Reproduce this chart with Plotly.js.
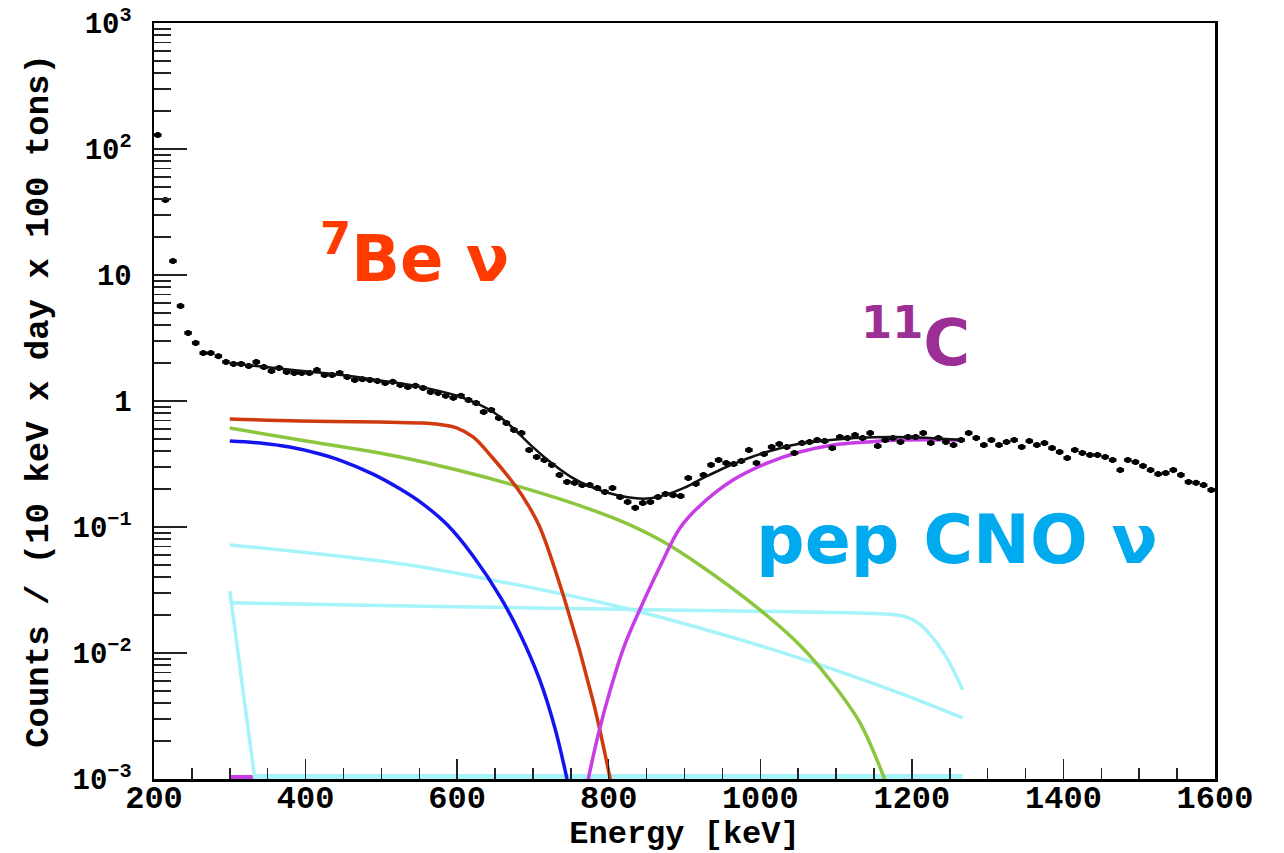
<!DOCTYPE html>
<html><head><meta charset="utf-8">
<script src="https://cdn.plot.ly/plotly-3.0.1.min.js"></script>
<style>html,body{margin:0;padding:0;background:#fff}#chart{width:1284px;height:853px}</style>
</head><body><div id="chart"></div>
<script>
// ---- measured spectrum (10 keV bins) ----
const dataEnergy = [205,215,225,235,245,255,265,275,285,295,
 305,315,325,335,345,355,365,375,385,395,
 405,415,425,435,445,455,465,475,485,495,
 505,515,525,535,545,555,565,575,585,595,
 605,615,625,635,645,655,665,675,685,695,
 705,715,725,735,745,755,765,775,785,795,
 805,815,825,835,845,855,865,875,885,895,
 905,915,925,935,945,955,965,975,985,995,
 1005,1015,1025,1035,1045,1055,1065,1075,1085,1095,
 1105,1115,1125,1135,1145,1155,1165,1175,1185,1195,
 1205,1215,1225,1235,1245,1255,1265,1275,1285,1295,
 1305,1315,1325,1335,1345,1355,1365,1375,1385,1395,
 1405,1415,1425,1435,1445,1455,1465,1475,1485,1495,
 1505,1515,1525,1535,1545,1555,1565,1575,1585,1595];
const dataCounts = [129, 39.4, 12.9, 5.67, 3.47, 2.89, 2.40, 2.40, 2.27, 2.04,
 1.97, 1.97, 1.90, 2.04, 1.86, 1.73, 1.83, 1.70, 1.67, 1.67,
 1.67, 1.76, 1.61, 1.61, 1.67, 1.55, 1.47, 1.49, 1.47, 1.44,
 1.39, 1.42, 1.34, 1.29, 1.32, 1.27, 1.18, 1.16, 1.10, 1.06,
 1.10, 1.02, 0.964, 0.818, 0.848, 0.733, 0.669, 0.589, 0.557, 0.408,
 0.360, 0.340, 0.311, 0.259, 0.228, 0.224, 0.215, 0.215, 0.204, 0.190,
 0.204, 0.173, 0.158, 0.142, 0.155, 0.158, 0.173, 0.183, 0.179, 0.176,
 0.245, 0.220, 0.259, 0.311, 0.340, 0.322, 0.316, 0.334, 0.408, 0.322,
 0.380, 0.432, 0.456, 0.432, 0.387, 0.464, 0.473, 0.490, 0.481, 0.423,
 0.518, 0.509, 0.537, 0.509, 0.557, 0.439, 0.490, 0.509, 0.473, 0.518,
 0.518, 0.557, 0.464, 0.509, 0.473, 0.447, 0.490, 0.557, 0.509, 0.447,
 0.490, 0.447, 0.473, 0.490, 0.432, 0.481, 0.447, 0.464, 0.423, 0.394,
 0.353, 0.408, 0.387, 0.373, 0.373, 0.360, 0.340, 0.283, 0.340, 0.328,
 0.305, 0.283, 0.263, 0.268, 0.283, 0.259, 0.228, 0.224, 0.215, 0.197];

// ---- total fit ----
const fitEnergy = [300,350,400,450,500,550,600,625,650,675,700,725,750,775,800,825,850,875,900,925,950,975,1000,1025,1050,1100,1150,1200,1267];
const fitCounts = [2.0,1.85,1.72,1.60,1.45,1.30,1.10,0.96,0.80,0.60,0.43,0.32,0.25,0.21,0.186,0.172,0.168,0.180,0.205,0.245,0.29,0.335,0.38,0.42,0.455,0.495,0.515,0.515,0.49];

// ---- components ----
const be7Energy = [300,393,498,551,577,600,621,647,679,692,709,742,779,802];
const be7Counts = [0.72,0.694,0.681,0.669,0.651,0.610,0.518,0.353,0.204,0.155,0.10,0.0263,0.00424,0.001];

const blueEnergy = [300,340,379,419,445,489,525,555,587,621,657,683,709,729,745];
const blueCounts = [0.482,0.464,0.431,0.380,0.340,0.263,0.200,0.152,0.104,0.0589,0.0278,0.01415,0.00611,0.00254,0.001];

const greenEnergy = [300,393,525,683,806,868,920,1000,1052,1092,1131,1164];
const greenCounts = [0.61,0.49,0.359,0.208,0.118,0.0788,0.0499,0.0219,0.01157,0.0061,0.00283,0.001];

const c11Energy = [773,786,802,821,845,868,894,920,964,1009,1052,1096,1141,1184,1267];
const c11Counts = [0.001,0.00223,0.00508,0.01157,0.0249,0.049,0.0982,0.147,0.236,0.322,0.394,0.448,0.473,0.49,0.49];

const cnoEnergy = [300,525,656,815,920,1052,1184,1267];
const cnoCounts = [0.072,0.051,0.037,0.0232,0.0158,0.0091,0.0048,0.00305];

const pepEnergy = [300,500,700,900,1100,1158,1190,1210,1243,1267];
const pepCounts = [0.025,0.0238,0.0228,0.0218,0.021,0.0205,0.0195,0.017,0.0098,0.0051];

const steepEnergy = [300,333];
const steepCounts = [0.031,0.001];

const floorEnergy = [333,1267];
const floorCounts = [0.001,0.001];
const floorLowEnergy = [300,530];
const floorLowCounts = [0.001,0.001];

const xTicks = [200,400,600,800,1000,1200,1400,1600];
const yTicks = [0.001,0.01,0.1,1,10,100,1000];
const yTickText = ['10<sup>−3</sup>','10<sup>−2</sup>','10<sup>−1</sup>','1','10','10<sup>2</sup>','10<sup>3</sup>'];
const yMinorTicks = [0.002,0.003,0.004,0.005,0.006,0.007,0.008,0.009,
 0.02,0.03,0.04,0.05,0.06,0.07,0.08,0.09,
 0.2,0.3,0.4,0.5,0.6,0.7,0.8,0.9,
 2,3,4,5,6,7,8,9,
 20,30,40,50,60,70,80,90,
 200,300,400,500,600,700,800,900];

const C = {red:'#d03a0e', blue:'#1414f0', green:'#8cc63f', mag:'#c83ce6', cyan:'#a6f3fa'};
function line(x,y,color,w,shape){return {x:x,y:y,type:'scatter',mode:'lines',line:{color:color,width:w,shape:shape||'spline',smoothing:1.0},hoverinfo:'skip',showlegend:false};}
function flat(x,y,color,w,dash){return {x:x,y:y,type:'scatter',mode:'lines',line:{color:color,width:w,dash:dash||'solid'},hoverinfo:'skip',showlegend:false};}

const traces = [
  flat(floorLowEnergy,floorLowCounts,C.blue,8),
  flat(floorLowEnergy,floorLowCounts,C.mag,8,'dash'),
  flat(floorEnergy,floorCounts,C.cyan,10),
  line(steepEnergy,steepCounts,C.cyan,3.5,'linear'),
  line(cnoEnergy,cnoCounts,C.cyan,3.5),
  line(pepEnergy,pepCounts,C.cyan,3.5),
  line(blueEnergy,blueCounts,C.blue,3.5),
  line(greenEnergy,greenCounts,C.green,3.5),
  line(be7Energy,be7Counts,C.red,3.5),
  line(c11Energy,c11Counts,C.mag,3.5),
  {x:dataEnergy,y:dataCounts,type:'scatter',mode:'markers',showlegend:false,hoverinfo:'skip',
   marker:{color:'#000',size:6,symbol:'circle'},
   error_x:{type:'constant',value:5,color:'#000',thickness:3.5,width:0},
   error_y:{type:'percent',value:5,color:'#000',thickness:2.5,width:0}},
  line(fitEnergy,fitCounts,'#111',2.5),
  {x:[],y:[],yaxis:'y2',type:'scatter',mode:'markers',showlegend:false,hoverinfo:'skip'}
];

const font = 'Liberation Mono, Courier New, monospace';
const tfont = 'DejaVu Sans, Verdana, sans-serif';
const layout = {
  width:1284,height:853,
  paper_bgcolor:'#fff',plot_bgcolor:'#fff',
  margin:{l:154,r:69,t:23,b:74},
  showlegend:false,
  xaxis:{range:[200,1600],tickmode:'array',tickvals:xTicks,ticks:'inside',ticklen:20,tickwidth:1.5,tickcolor:'#222',
    minor:{dtick:50,ticks:'inside',ticklen:11,tickwidth:1.5,tickcolor:'#222',showgrid:false},
    showline:true,mirror:true,linecolor:'#000',linewidth:2.5,showgrid:false,zeroline:false,
    tickfont:{family:font,size:32,color:'#000',weight:'bold'},ticklabelstandoff:-12,
    title:{text:'Energy [keV]',font:{family:font,size:32,color:'#000',weight:'bold'},standoff:26}},
  yaxis:{type:'log',range:[-3,3],tickmode:'array',tickvals:yTicks,ticktext:yTickText,ticks:'inside',ticklen:33,tickwidth:1.5,tickcolor:'#222',
    showline:true,mirror:true,linecolor:'#000',linewidth:2.5,showgrid:false,zeroline:false,
    tickfont:{family:font,size:29,color:'#000',weight:'bold'},ticklabelstandoff:14,
    title:{text:'Counts / (10 keV x day x 100 tons)',font:{family:font,size:34,color:'#000',weight:'bold'},standoff:14}},
  yaxis2:{type:'log',range:[-3,3],overlaying:'y',side:'left',tickmode:'array',tickvals:yMinorTicks,ticks:'inside',ticklen:17,tickwidth:1.5,tickcolor:'#222',
    showticklabels:false,showline:false,showgrid:false,zeroline:false},
  annotations:[
    {x:544,y:1.167,xref:'x',yref:'y',text:'<sup>7</sup>Be ν',showarrow:false,font:{family:tfont,size:64,color:'#ff3a00',weight:'bold'}},
    {x:1205,y:0.5,xref:'x',yref:'y',text:'<sup>11</sup>C',showarrow:false,font:{family:tfont,size:64,color:'#9b2f96',weight:'bold'}},
    {x:1259,y:-1.103,xref:'x',yref:'y',text:'pep CNO ν',showarrow:false,font:{family:tfont,size:68,color:'#00aaee',weight:'bold'}}
  ]
};
Plotly.newPlot('chart',traces,layout,{displayModeBar:false,staticPlot:true});
</script></body></html>
